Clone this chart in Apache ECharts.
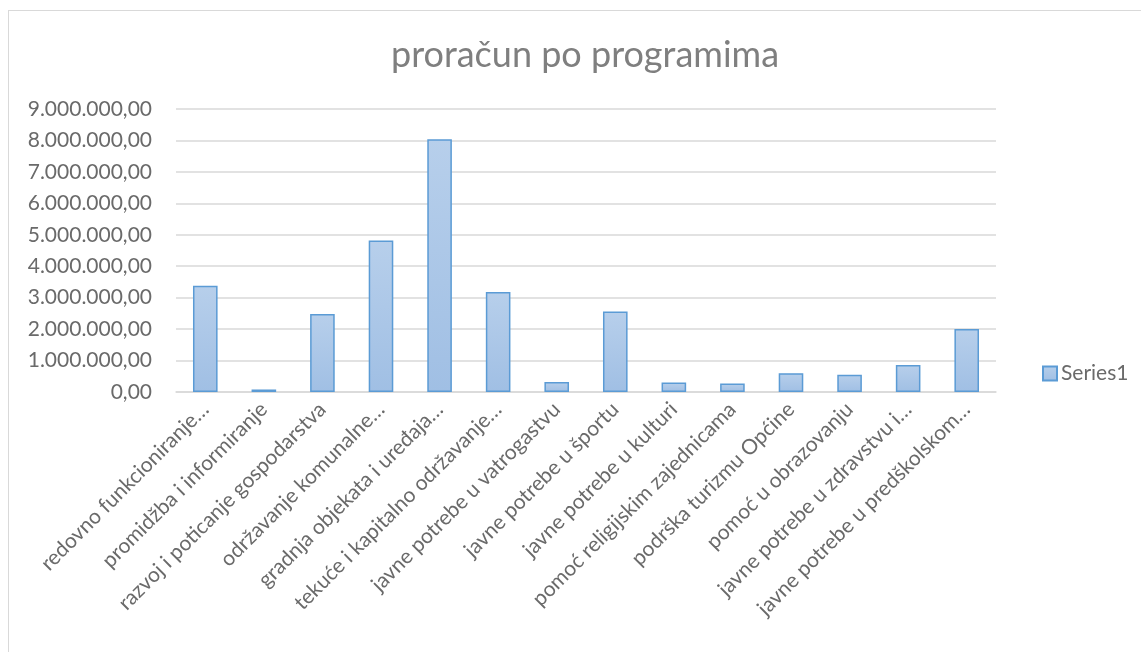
<!DOCTYPE html>
<html>
<head>
<meta charset="utf-8">
<script src="https://cdn.jsdelivr.net/npm/echarts@6/dist/echarts.min.js"></script>
<style>
  html, body { margin: 0; padding: 0; background: #fff; }
  #frame {
    position: absolute; left: 8px; top: 10px; width: 1200px; height: 700px;
    border: 1px solid #d9d9d9; box-sizing: border-box;
  }
  #chart { position: absolute; left: 0; top: 0; width: 1141px; height: 652px; }
</style>
</head>
<body>
<div id="frame"></div>
<div id="chart"></div>
<script>
// categories as shown on the axis (Excel truncates the long ones)
const programs = [
  'redovno funkcioniranje…',
  'promidžba i informiranje',
  'razvoj i poticanje gospodarstva',
  'održavanje komunalne…',
  'gradnja objekata i uređaja…',
  'tekuće i kapitalno održavanje…',
  'javne potrebe u vatrogastvu',
  'javne potrebe u športu',
  'javne potrebe u kulturi',
  'pomoć religijskim zajednicama',
  'podrška turizmu Općine',
  'pomoć u obrazovanju',
  'javne potrebe u zdravstvu i…',
  'javne potrebe u predškolskom…'
];
const series1 = [
  3380000, 80000, 2480000, 4820000, 8040000, 3180000, 320000,
  2560000, 305000, 270000, 600000, 550000, 860000, 2000000
];
const yTicks = { min: 0, max: 9000000, interval: 1000000 };

// 9000000 -> "9.000.000,00"
function hrNumber(v) {
  const parts = Math.abs(v).toFixed(2).split('.');
  const intPart = parts[0].replace(/\B(?=(\d{3})+(?!\d))/g, '.');
  return (v < 0 ? '-' : '') + intPart + ',' + parts[1];
}

const chart = echarts.init(document.getElementById('chart'));
const font = 'Lato, "Open Sans", sans-serif';

chart.setOption({
  animation: false,
  title: {
    text: 'proračun po programima',
    left: 580,
    textAlign: 'center',
    top: 32,
    textStyle: { fontFamily: font, fontSize: 36, fontWeight: 'normal', color: '#7f7f7f' }
  },
  legend: {
    data: ['Series1'],
    left: 1037,
    top: 358,
    itemWidth: 14,
    itemHeight: 14,
    icon: 'rect',
    textStyle: { fontFamily: font, fontSize: 21, color: '#6a6a6a', padding: [0, 0, 0, -1] }
  },
  grid: { left: 176, right: 145, top: 109, bottom: 260, containLabel: false },
  xAxis: {
    type: 'category',
    data: programs,
    axisLine: { lineStyle: { color: '#d9d9d9', width: 1.5 } },
    axisTick: { show: false },
    axisLabel: {
      interval: 0,
      rotate: 45,
      margin: 14,
      fontFamily: font,
      fontSize: 21,
      color: '#6a6a6a'
    }
  },
  yAxis: {
    type: 'value',
    min: yTicks.min,
    max: yTicks.max,
    interval: yTicks.interval,
    axisLine: { show: false },
    axisTick: { show: false },
    splitLine: { lineStyle: { color: '#d9d9d9', width: 1.5 } },
    axisLabel: {
      formatter: hrNumber,
      margin: 24,
      fontFamily: font,
      fontSize: 21,
      color: '#6a6a6a'
    }
  },
  series: [{
    name: 'Series1',
    type: 'bar',
    data: series1,
    barWidth: '42%',
    itemStyle: {
      color: new echarts.graphic.LinearGradient(0, 0, 0, 1, [
        { offset: 0, color: '#b7cfeb' },
        { offset: 1, color: '#a0bfe4' }
      ]),
      borderColor: '#5b9bd5',
      borderWidth: 1.5
    }
  }]
});
</script>
</body>
</html>
